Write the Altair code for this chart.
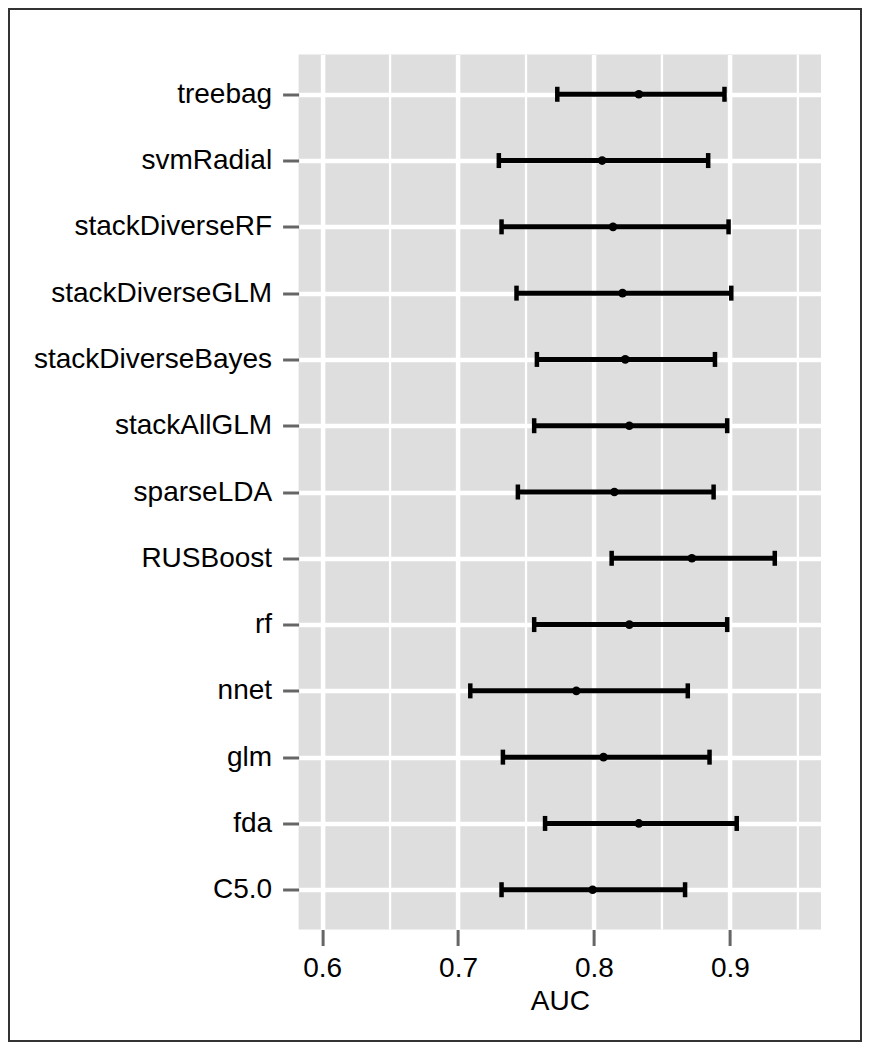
import altair as alt
import pandas as pd

models = ["treebag", "svmRadial", "stackDiverseRF", "stackDiverseGLM",
          "stackDiverseBayes", "stackAllGLM", "sparseLDA", "RUSBoost",
          "rf", "nnet", "glm", "fda", "C5.0"]
auc = [0.833, 0.806, 0.814, 0.821, 0.823, 0.826, 0.815, 0.872, 0.826,
       0.787, 0.807, 0.833, 0.799]
lower = [0.773, 0.730, 0.732, 0.743, 0.758, 0.756, 0.744, 0.813, 0.756,
         0.709, 0.733, 0.764, 0.732]
upper = [0.896, 0.884, 0.899, 0.901, 0.889, 0.898, 0.888, 0.933, 0.898,
         0.869, 0.885, 0.905, 0.867]
major_ticks = [0.6, 0.7, 0.8, 0.9]
minor_ticks = [0.65, 0.75, 0.85, 0.95]

df = pd.DataFrame({"model": models, "AUC": auc, "lower": lower, "upper": upper})
minor_df = pd.DataFrame({"v": minor_ticks})
frame_df = pd.DataFrame({"a": [0]})

FONT = "Liberation Sans"
W, H = 522.4, 875
PAD_L, PAD_T = 290.6, 46.5
PAD_R = 854 - PAD_L - W
PAD_B = 1034 - PAD_T - H

xscale = alt.Scale(domain=[0.5827, 0.967], nice=False, zero=False)
yscale = alt.Scale(type="point", padding=0.6)

xaxis = alt.Axis(values=major_ticks, format=".1f", title="AUC",
                 grid=True, gridColor="white", gridWidth=4.5,
                 domain=False, tickColor="#666666", tickWidth=3, tickSize=16,
                 labelFont=FONT, labelFontSize=28, labelColor="black",
                 labelPadding=9, titleFont=FONT, titleFontSize=28,
                 titleFontWeight="normal", titleColor="black", titlePadding=5)
yaxis = alt.Axis(title=None, grid=True, gridColor="white", gridWidth=4.5,
                 domain=False, tickColor="#666666", tickWidth=3, tickSize=16,
                 labelFont=FONT, labelFontSize=28, labelColor="black",
                 labelPadding=11, labelLimit=0)

base = alt.Chart(df)

minor = alt.Chart(minor_df).mark_rule(color="white", strokeWidth=2.3).encode(
    x=alt.X("v:Q", scale=xscale, axis=xaxis)
)

bars = base.mark_rule(color="black", strokeWidth=5).encode(
    x=alt.X("lower:Q", scale=xscale, axis=xaxis),
    x2="upper:Q",
    y=alt.Y("model:N", sort=models, scale=yscale, axis=yaxis),
)

cap_lo = base.mark_tick(color="black", size=15, thickness=4.5, opacity=1,
                        orient="vertical").encode(
    x=alt.X("lower:Q", scale=xscale),
    y=alt.Y("model:N", sort=models, scale=yscale),
)
cap_hi = base.mark_tick(color="black", size=15, thickness=4.5, opacity=1,
                        orient="vertical").encode(
    x=alt.X("upper:Q", scale=xscale),
    y=alt.Y("model:N", sort=models, scale=yscale),
)
points = base.mark_circle(color="black", size=75, opacity=1).encode(
    x=alt.X("AUC:Q", scale=xscale),
    y=alt.Y("model:N", sort=models, scale=yscale),
)

frame = alt.Chart(frame_df).mark_rect(filled=False, stroke="#333333", strokeWidth=2).encode(
    x=alt.value(1 - PAD_L), x2=alt.value(853 - PAD_L),
    y=alt.value(1 - PAD_T), y2=alt.value(1033 - PAD_T),
)

chart = alt.layer(minor, bars, cap_lo, cap_hi, points, frame).properties(
    width=W, height=H,
    autosize=alt.AutoSizeParams(type="none"),
    padding={"left": PAD_L, "top": PAD_T, "right": PAD_R, "bottom": PAD_B},
    background="white",
).configure_view(fill="#DEDEDE", stroke=None)

chart.save("out.html", embed_options={"renderer": "svg", "actions": False})
